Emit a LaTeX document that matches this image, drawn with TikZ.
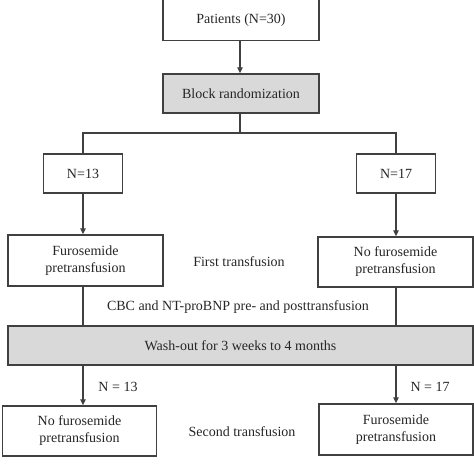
\documentclass[tikz,border=0pt]{standalone}
\usepackage{fontspec}
\setmainfont{Liberation Serif}
\usetikzlibrary{arrows.meta}
\begin{document}
\begin{tikzpicture}[x=1pt,y=-1pt,
  box/.style={draw=black!75,line width=1.4pt,fill=white,inner sep=0pt,align=center,
    font=\fontsize{14}{17}\selectfont,text=black!85},
  graybox/.style={box,fill=black!15},
  lbl/.style={font=\fontsize{14}{17}\selectfont,text=black!85,inner sep=0pt},
  conn/.style={draw=black!75,line width=1.3pt},
  arr/.style={conn,-{Triangle[length=6pt,width=5.5pt]}}]
\useasboundingbox (0,0) rectangle (474,473);
\node[box,minimum width=156pt,minimum height=41pt] (pat) at (241,20) {Patients (N=30)};
\node[graybox,minimum width=156pt,minimum height=39pt] (blk) at (241,93.5) {Block randomization};
\node[box,minimum width=79pt,minimum height=39pt] (n13) at (83,173.5) {N=13};
\node[box,minimum width=79pt,minimum height=39pt] (n17) at (396,173.5) {N=17};
\node[box,minimum width=155pt,minimum height=51pt] (fl) at (85.5,260.5) {Furosemide\\pretransfusion};
\node[box,minimum width=155pt,minimum height=50pt] (fr) at (395.5,262) {No furosemide\\pretransfusion};
\node[graybox,minimum width=465pt,minimum height=39pt] (wash) at (240.5,345.5) {Wash-out for 3 weeks to 4 months};
\node[box,minimum width=154pt,minimum height=50pt] (bl) at (79.5,431) {No furosemide\\pretransfusion};
\node[box,minimum width=154pt,minimum height=51pt] (br) at (396,429.5) {Furosemide\\pretransfusion};
\node[lbl] (t1) at (239,262) {First transfusion};
\node[lbl] (t2) at (238,307) {CBC and NT-proBNP pre- and posttransfusion};
\node[lbl] (t3) at (118,387) {N = 13};
\node[lbl] (t4) at (430,387) {N = 17};
\node[lbl] (t5) at (242,432) {Second transfusion};
\coordinate (split) at (240,133);
\draw[arr] (pat.south -| split) -- (blk.north -| split);
\draw[conn] (blk.south -| split) -- (split);
\draw[conn] (n13.north) |- (split) -| (n17.north);
\draw[arr] (n13.south) -- (n13.south |- fl.north);
\draw[arr] (n17.south) -- (n17.south |- fr.north);
\draw[conn] (n13.south |- fl.south) -- (n13.south |- wash.north);
\draw[conn] (n17.south |- fr.south) -- (n17.south |- wash.north);
\draw[arr] (n13.south |- wash.south) -- (n13.south |- bl.north);
\draw[arr] (n17.south |- wash.south) -- (n17.south |- br.north);
\end{tikzpicture}
\end{document}
